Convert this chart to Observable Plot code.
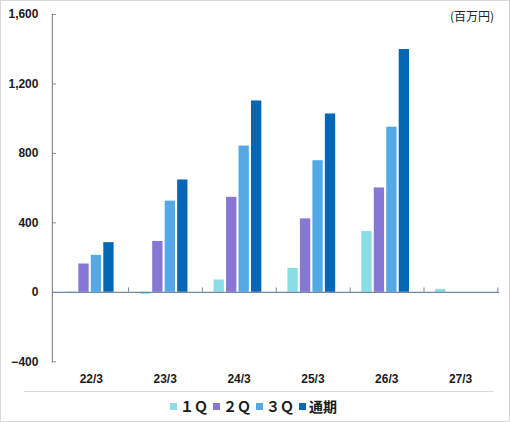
<!DOCTYPE html>
<html>
<head>
<meta charset="utf-8">
<script src="https://cdn.jsdelivr.net/npm/d3@7"></script>
<script src="https://cdn.jsdelivr.net/npm/@observablehq/plot@0.6"></script>
<style>
  html, body { margin: 0; padding: 0; background: #fff; }
  #wrap { position: relative; width: 510px; height: 422px; box-sizing: border-box; border: 1px solid #d9d9d9; overflow: hidden; }
  #chart { position: absolute; left: -1px; top: -1px; }
  #unit { position: absolute; left: 449px; top: 6px; font: 12px "Noto Sans CJK JP", sans-serif; color: #222; }
  #sep { position: absolute; left: 23px; top: 390px; width: 470px; height: 0; border-top: 1.5px solid #d9d9d9; }
  #legend { position: absolute; left: 169px; top: 395px; display: flex; align-items: center; font: bold 14px "Noto Sans CJK JP", sans-serif; color: #1a1a1a; }
  .item { display: flex; align-items: center; margin-right: 5px; }
  .sw { width: 7px; height: 7px; margin-right: 3px; }
</style>
</head>
<body>
<div id="wrap">
  <div id="chart"></div>
  <div id="unit">(百万円)</div>
  <div id="sep"></div>
  <div id="legend"></div>
</div>
<script>
const categories = ["22/3", "23/3", "24/3", "25/3", "26/3", "27/3"];
const seriesNames = ["１Ｑ", "２Ｑ", "３Ｑ", "通期"];
const q1 = [2, -12, 71, 138, 350, 17];
const q2 = [163, 293, 547, 423, 601, null];
const q3 = [213, 525, 842, 758, 951, null];
const fy = [286, 647, 1102, 1027, 1398, null];
const yTicks = [-400, 0, 400, 800, 1200, 1600];
const colors = ["#8adde5", "#8577d3", "#55a8e6", "#0467b5"];

const seriesValues = [q1, q2, q3, fy];
const W = 510, H = 390, mL = 52, mR = 10, mT = 14, mB = 28;
const step = (W - mL - mR) / categories.length;
const barW = 11, pitch = 12.5, offset0 = 12;

const marks = [];
seriesValues.forEach((vals, i) => {
  const data = categories.map((c, j) => ({cat: c, v: vals[j]})).filter(d => d.v != null);
  const left = offset0 + pitch * i;
  marks.push(Plot.barY(data, {
    x: "cat", y: "v", fill: colors[i],
    insetLeft: left, insetRight: step - left - barW
  }));
});

const chart = Plot.plot({
  width: W, height: H,
  marginLeft: mL, marginRight: mR, marginTop: mT, marginBottom: mB,
  style: {fontFamily: "'Liberation Sans', Arial, sans-serif", fontSize: "12px", color: "#1a1a1a", background: "transparent"},
  x: {domain: categories, padding: 0, axis: null, label: null},
  y: {domain: [-400, 1600], axis: null, label: null},
  marks: [
    ...marks,
    Plot.ruleY([0], {stroke: "#7187a3", strokeWidth: 1.2}),
    Plot.ruleX(categories, {x: d => d, dx: step / 2, y1: 0, y2: 25, stroke: "#7187a3", strokeWidth: 1}),
    Plot.frame({anchor: "left", stroke: "#8a8a8a", strokeWidth: 1.2}),
    Plot.tickY(yTicks, {y: d => d, insetRight: W - mL - mR - 4, stroke: "#8a8a8a"}),
    Plot.axisY({ticks: yTicks, tickFormat: d3.format(","), tickSize: 0, tickPadding: 14, fontWeight: "bold", fontSize: 12, label: null}),
    Plot.axisX({anchor: "bottom", tickSize: 0, tickPadding: 13, fontWeight: "bold", fontSize: 12, label: null})
  ]
});
document.getElementById("chart").appendChild(chart);

const legend = document.getElementById("legend");
seriesNames.forEach((name, i) => {
  const item = document.createElement("div");
  item.className = "item";
  const sw = document.createElement("div");
  sw.className = "sw";
  sw.style.background = colors[i];
  const t = document.createElement("span");
  t.textContent = name;
  item.appendChild(sw);
  item.appendChild(t);
  legend.appendChild(item);
});
</script>
</body>
</html>
